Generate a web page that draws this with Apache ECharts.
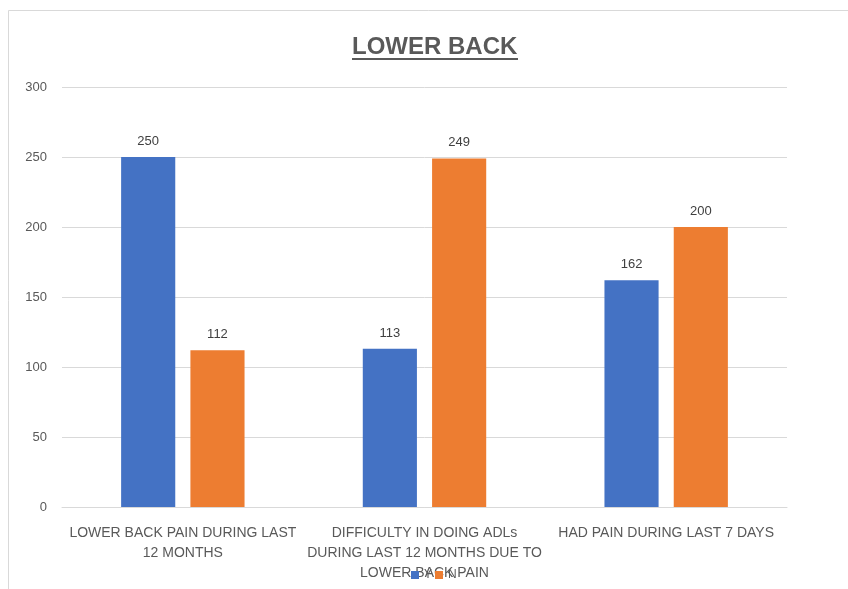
<!DOCTYPE html>
<html>
<head>
<meta charset="utf-8">
<script src="https://cdn.jsdelivr.net/npm/echarts@6/dist/echarts.min.js"></script>
<style>
  html, body { margin: 0; padding: 0; background: #ffffff; }
  #chart { width: 848px; height: 589px; }
</style>
</head>
<body>
<div id="chart"></div>
<script>
// Lower back pain survey: counts of Y / N answers per question
const categories = [
  'LOWER BACK PAIN DURING LAST\n12 MONTHS',
  'DIFFICULTY IN DOING ADLs\nDURING LAST 12 MONTHS DUE TO\nLOWER BACK PAIN',
  'HAD PAIN DURING LAST 7 DAYS'
];
const seriesNames = ['Y', 'N'];
const yesValues = [250, 113, 162];
const noValues = [112, 249, 200];
const yTicks = { min: 0, max: 300, interval: 50 };

const font = 'Liberation Sans, Arial, sans-serif';
const chart = echarts.init(document.getElementById('chart'));

const labelStyle = {
  show: true,
  position: 'top',
  distance: 9,
  color: '#404040',
  fontSize: 13,
  fontFamily: font
};

chart.setOption({
  animation: false,
  backgroundColor: '#ffffff',
  title: {
    text: 'LOWER BACK',
    left: 347,
    top: 30,
    textStyle: {
      fontFamily: font,
      fontSize: 24,
      fontWeight: 'bold',
      color: '#595959'
    }
  },
  graphic: [
    {
      type: 'rect',
      shape: { x: 8.5, y: 10.5, width: 860, height: 600 },
      style: { fill: 'none', stroke: '#d9d9d9', lineWidth: 1 },
      silent: true,
      z: -1
    },
    {
      type: 'line',
      shape: { x1: 352, y1: 59, x2: 518, y2: 59 },
      style: { stroke: '#595959', lineWidth: 2 },
      silent: true
    }
  ],
  legend: {
    data: seriesNames,
    bottom: 3,
    left: 406,
    itemWidth: 8,
    itemHeight: 8,
    itemGap: 3,
    icon: 'rect',
    textStyle: { color: '#595959', fontSize: 12, fontFamily: font }
  },
  grid: { left: 62, right: 61, top: 87, bottom: 82 },
  xAxis: {
    type: 'category',
    data: categories,
    axisLine: { lineStyle: { color: '#d9d9d9' } },
    axisTick: { show: false },
    axisLabel: {
      color: '#595959',
      fontSize: 14,
      fontFamily: font,
      margin: 16,
      lineHeight: 20,
      interval: 0
    }
  },
  yAxis: {
    type: 'value',
    min: yTicks.min,
    max: yTicks.max,
    interval: yTicks.interval,
    axisLine: { show: false },
    axisTick: { show: false },
    splitLine: { lineStyle: { color: '#d9d9d9' } },
    axisLabel: { color: '#595959', fontSize: 13, fontFamily: font, margin: 15 }
  },
  series: [
    {
      name: seriesNames[0],
      type: 'bar',
      data: yesValues,
      barWidth: '22.4%',
      barGap: '28%',
      itemStyle: { color: '#4472c4' },
      label: labelStyle
    },
    {
      name: seriesNames[1],
      type: 'bar',
      data: noValues,
      barWidth: '22.4%',
      itemStyle: { color: '#ed7d31' },
      label: labelStyle
    }
  ]
});
</script>
</body>
</html>
